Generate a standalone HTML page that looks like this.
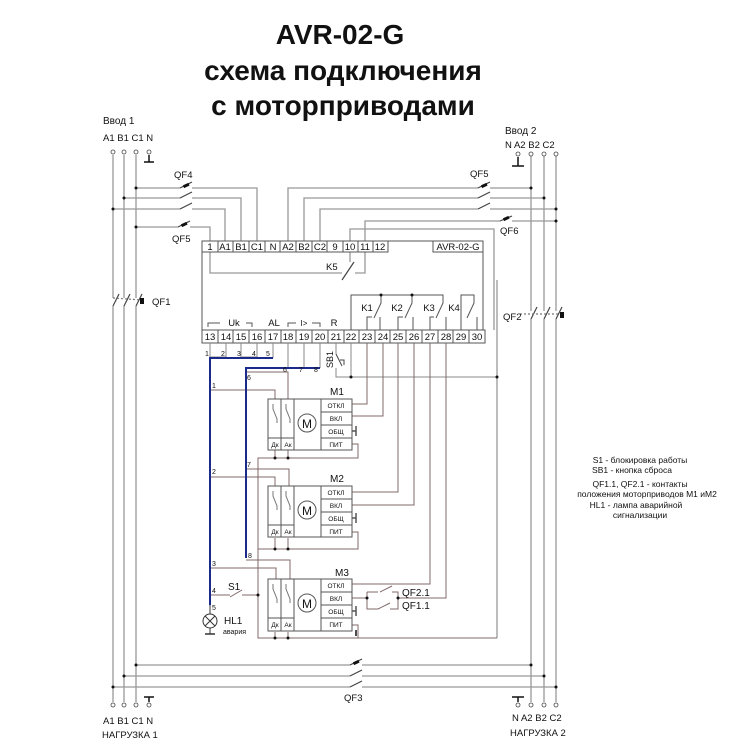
<!DOCTYPE html>
<html><head><meta charset="utf-8"><style>
html,body{margin:0;padding:0;background:#fff}
svg{display:block}
text{font-family:"Liberation Sans",sans-serif;fill:#111}
</style></head><body>
<svg width="750" height="750" viewBox="0 0 750 750" xmlns="http://www.w3.org/2000/svg">
<g font-weight="bold" font-size="28" text-anchor="middle">
<text x="340" y="44">AVR-02-G</text>
<text x="343" y="80">схема подключения</text>
<text x="343" y="115">с моторприводами</text>
</g>

<g font-size="10">
<text x="103" y="124">Ввод 1</text>
<text x="103" y="141" font-size="9.5">A1 B1 C1 N</text>
<text x="505" y="134">Ввод 2</text>
<text x="505" y="148" font-size="9.5">N  A2 B2 C2</text>
</g>

<g stroke="#999" stroke-width="1.3" fill="none">
<line x1="113" y1="155" x2="113" y2="298"/><line x1="113" y1="306" x2="113" y2="702"/>
<line x1="124" y1="155" x2="124" y2="298"/><line x1="124" y1="306" x2="124" y2="702"/>
<line x1="136" y1="155" x2="136" y2="298"/><line x1="136" y1="306" x2="136" y2="702"/>
<line x1="531" y1="156" x2="531" y2="311"/><line x1="531" y1="319" x2="531" y2="702"/>
<line x1="544" y1="156" x2="544" y2="311"/><line x1="544" y1="319" x2="544" y2="702"/>
<line x1="556" y1="156" x2="556" y2="311"/><line x1="556" y1="319" x2="556" y2="702"/>
<polyline points="136,188 180,188"/><polyline points="192,188 257,188 257,241"/>
<polyline points="124,198 180,198"/><polyline points="192,198 241,198 241,241"/>
<polyline points="113,209 180,209"/><polyline points="192,209 225,209 225,241"/>
<polyline points="136,227 178,227"/><polyline points="190,227 210,227 210,241"/>
<polyline points="288,241 288,188 478,188"/><polyline points="490,188 531,188"/>
<polyline points="304,241 304,198 478,198"/><polyline points="490,198 544,198"/>
<polyline points="320,241 320,209 478,209"/><polyline points="490,209 556,209"/>
<polyline points="365,241 365,221 500,221"/><polyline points="512,221 556,221"/>
<polyline points="350,241 350,229 494,229 494,330"/>
<line x1="497" y1="280" x2="497" y2="638"/>
<polyline points="210,252 210,273 342,273"/>
<polyline points="355,273 365,273 365,252"/>
<line x1="350" y1="252" x2="350" y2="262"/>
<line x1="136" y1="665" x2="350" y2="665"/><line x1="362" y1="665" x2="531" y2="665"/>
<line x1="124" y1="676" x2="350" y2="676"/><line x1="362" y1="676" x2="544" y2="676"/>
<line x1="113" y1="687" x2="350" y2="687"/><line x1="362" y1="687" x2="556" y2="687"/>
</g>

<g stroke="#444" stroke-width="1.2" fill="none">
<line x1="180" y1="188" x2="192" y2="182"/><line x1="180" y1="198" x2="192" y2="192"/><line x1="180" y1="209" x2="192" y2="203"/>
<line x1="178" y1="227" x2="190" y2="221"/>
<line x1="478" y1="188" x2="490" y2="182"/><line x1="478" y1="198" x2="490" y2="192"/><line x1="478" y1="209" x2="490" y2="203"/>
<line x1="500" y1="221" x2="512" y2="216"/>
<line x1="350" y1="665" x2="362" y2="659"/><line x1="350" y1="676" x2="362" y2="670"/><line x1="350" y1="687" x2="362" y2="681"/>
<line x1="113" y1="306" x2="119" y2="294"/><line x1="124" y1="306" x2="130" y2="294"/><line x1="136" y1="306" x2="142" y2="294"/>
<line x1="113" y1="298" x2="142" y2="300" stroke-dasharray="2,2" stroke="#777"/>
<line x1="531" y1="319" x2="537" y2="307"/><line x1="544" y1="319" x2="550" y2="307"/><line x1="556" y1="319" x2="562" y2="307"/>
<line x1="520" y1="314" x2="562" y2="314" stroke-dasharray="2,2" stroke="#777"/>
<line x1="342" y1="280" x2="354" y2="262"/>
</g>
<g fill="#111">
<rect x="183" y="184" width="6" height="3" transform="rotate(-25 186 185)"/>
<rect x="181" y="223" width="6" height="3" transform="rotate(-25 184 224)"/>
<rect x="481" y="184" width="6" height="3" transform="rotate(-25 484 185)"/>
<rect x="503" y="217" width="6" height="3" transform="rotate(-25 506 218)"/>
<rect x="353" y="661" width="6" height="3" transform="rotate(-25 356 662)"/>
<rect x="140" y="298" width="4" height="6"/>
<rect x="560" y="312" width="4" height="6"/>
</g>
<g font-size="9.5">
<text x="174" y="178">QF4</text><text x="172" y="242">QF5</text>
<text x="470" y="177">QF5</text><text x="500" y="234">QF6</text>
<text x="152" y="305">QF1</text><text x="503" y="320">QF2</text>
<text x="344" y="701">QF3</text>
<text x="326" y="270">K5</text>
</g>

<g font-size="9.5" fill="none" stroke="#555" stroke-width="1">
<rect x="202" y="241" width="281" height="102"/>
<rect x="202" y="241" width="186" height="11" fill="#fff"/>
<rect x="433" y="241" width="50" height="11" fill="#fff"/>
<rect x="202" y="330" width="283" height="13" fill="#fff"/>
<path d="M218 241v11M233 241v11M249 241v11M265 241v11M280 241v11M296 241v11M312 241v11M327 241v11M343 241v11M358 241v11M373 241v11"/>
<path d="M218 330v13M233 330v13M249 330v13M265 330v13M281 330v13M296 330v13M312 330v13M328 330v13M344 330v13M359 330v13M375 330v13M390 330v13M406 330v13M422 330v13M438 330v13M453 330v13M469 330v13"/>
</g>
<g font-size="9.5" text-anchor="middle">
<text x="210" y="250">1</text><text x="225" y="250">A1</text><text x="241" y="250">B1</text><text x="257" y="250">C1</text><text x="273" y="250">N</text><text x="288" y="250">A2</text><text x="304" y="250">B2</text><text x="320" y="250">C2</text><text x="335" y="250">9</text><text x="350" y="250">10</text><text x="365" y="250">11</text><text x="380" y="250">12</text>
<text x="458" y="250">AVR-02-G</text>
<text x="210" y="340">13</text><text x="226" y="340">14</text><text x="241" y="340">15</text><text x="257" y="340">16</text><text x="273" y="340">17</text><text x="288" y="340">18</text><text x="304" y="340">19</text><text x="320" y="340">20</text><text x="336" y="340">21</text><text x="351" y="340">22</text><text x="367" y="340">23</text><text x="383" y="340">24</text><text x="398" y="340">25</text><text x="414" y="340">26</text><text x="430" y="340">27</text><text x="446" y="340">28</text><text x="461" y="340">29</text><text x="477" y="340">30</text>
<text x="234" y="326">Uk</text><text x="274" y="326">AL</text><text x="304" y="326" font-size="8">I&gt;</text><text x="334" y="326">R</text>
<text x="367" y="311">K1</text><text x="397" y="311">K2</text><text x="429" y="311">K3</text><text x="454" y="311">K4</text>
</g>
<g stroke="#555" stroke-width="1" fill="none">
<path d="M208 327v-4h12M246 323h6v4M288 327v-4h8M312 323h8v4"/>
<polyline points="351,330 351,295 412,295"/>
<polyline points="381,295 381,303 374,318"/><polyline points="367,330 367,317 372,317"/><line x1="380" y1="330" x2="380" y2="317"/>
<polyline points="412,295 412,303 405,318"/><polyline points="398,330 398,317 403,317"/><line x1="413" y1="330" x2="413" y2="317"/>
<polyline points="412,295 443,295 443,303 436,318"/><polyline points="430,330 430,317 434,317"/><line x1="446" y1="330" x2="446" y2="317"/>
<polyline points="461,330 461,295 474,295 474,303 467,318"/><line x1="477" y1="330" x2="477" y2="317"/>
</g>
<g fill="#111"><circle cx="381" cy="295" r="1.5"/><circle cx="412" cy="295" r="1.5"/></g>

<g stroke="#888" stroke-width="1" fill="none">
<line x1="210" y1="343" x2="210" y2="358"/><line x1="226" y1="343" x2="226" y2="358"/><line x1="241" y1="343" x2="241" y2="358"/><line x1="257" y1="343" x2="257" y2="358"/><line x1="273" y1="343" x2="273" y2="358"/>
<path d="M210 357h16M241 357h16"/>
<line x1="288" y1="343" x2="288" y2="368"/><line x1="304" y1="343" x2="304" y2="368"/><line x1="320" y1="343" x2="320" y2="368"/>
<polyline points="336,343 336,354"/>
<polyline points="336,368 336,377 497,377"/>
<line x1="351" y1="343" x2="351" y2="377"/>
</g>
<g stroke="#806868" stroke-width="1" fill="none">
<polyline points="367,343 367,404 352,404"/>
<polyline points="383,343 383,416 352,416"/>
<polyline points="398,343 398,492 352,492"/>
<polyline points="414,343 414,505 352,505"/>
<polyline points="430,343 430,584 352,584"/>
<polyline points="446,343 446,598 398,598"/>
<polyline points="352,598 367,598"/>
<polyline points="367,592 367,609 378,609"/><line x1="378" y1="609" x2="390" y2="603"/><polyline points="390,609 398,609 398,592 392,592"/>
<polyline points="367,592 378,592"/><line x1="380" y1="592" x2="392" y2="586"/>
<polyline points="352,444 358,444 358,458 258,458 258,638 497,638"/>
<polyline points="352,532 358,532 358,549 258,549"/>
<polyline points="352,625 358,625 358,638"/>
<line x1="275" y1="450" x2="275" y2="458"/><line x1="288" y1="450" x2="288" y2="458"/>
<line x1="275" y1="538" x2="275" y2="549"/><line x1="288" y1="538" x2="288" y2="549"/>
<line x1="275" y1="632" x2="275" y2="638"/><line x1="288" y1="632" x2="288" y2="638"/>
<polyline points="210,390 275,390 275,399"/>
<polyline points="246,372 288,372 288,399"/>
<polyline points="210,477 275,477 275,486"/>
<polyline points="246,469 289,469 289,486"/>
<polyline points="210,568 276,568 276,579"/>
<polyline points="246,560 290,560 290,579"/>
<polyline points="210,595 230,595"/><line x1="230" y1="597" x2="242" y2="590"/><polyline points="242,595 258,595"/>
</g>
<g fill="#111"><circle cx="351" cy="377" r="1.5"/><circle cx="497" cy="377" r="1.5"/><circle cx="258" cy="595" r="1.5"/><circle cx="367" cy="598" r="1.5"/><circle cx="398" cy="598" r="1.5"/>
<circle cx="275" cy="458" r="1.5"/><circle cx="288" cy="458" r="1.5"/><circle cx="275" cy="549" r="1.5"/><circle cx="288" cy="549" r="1.5"/><circle cx="275" cy="638" r="1.5"/><circle cx="288" cy="638" r="1.5"/></g>
<g stroke="#1a2a8a" stroke-width="2" fill="none">
<polyline points="273,358 210,358 210,605"/>
<polyline points="320,368 246,368 246,558"/>
</g>
<g font-size="7">
<text x="205" y="356">1</text><text x="221" y="356">2</text><text x="237" y="356">3</text><text x="252" y="356">4</text><text x="266" y="356">5</text>
<text x="283" y="372">6</text><text x="299" y="372">7</text><text x="314" y="372">8</text>
<text x="247" y="380">6</text><text x="212" y="388">1</text><text x="247" y="467">7</text><text x="212" y="474">2</text>
<text x="248" y="558">8</text><text x="212" y="566">3</text><text x="212" y="593">4</text><text x="212" y="610">5</text>
</g>
<text x="0" y="0" font-size="9" transform="translate(333,368) rotate(-90)">SB1</text>
<g stroke="#444" fill="none"><line x1="336" y1="354" x2="342" y2="366"/><path d="M340 360h4v5"/></g>
<text x="228" y="590" font-size="10">S1</text>
<g stroke="#333" fill="none" stroke-width="1"><line x1="210" y1="605" x2="210" y2="614"/><circle cx="210" cy="621" r="7"/><path d="M205 616l10 10M215 616l-10 10"/><line x1="210" y1="628" x2="210" y2="634"/><line x1="205" y1="634" x2="215" y2="634" stroke-width="1.5"/></g>
<text x="224" y="624" font-size="10">HL1</text><text x="223" y="634" font-size="7">авария</text>

<g>
<g stroke="#555" fill="none" stroke-width="1">
<rect x="268" y="399" width="84" height="51"/>
<path d="M281 399v51M294 399v51M321 399v51M321 412h31M321 425h31M321 438h31M268 438h26"/>
<path d="M273 404v5l4 10v4M286 404v5l4 10v4" stroke="#777"/>
<circle cx="307" cy="423" r="9"/>
<path d="M352 431h4M356 426v10" stroke-width="1.5"/>
</g>
<text x="307" y="428" font-size="12" text-anchor="middle">M</text>
<g font-size="6.5" text-anchor="middle"><text x="336" y="408">ОТКЛ</text><text x="336" y="421">ВКЛ</text><text x="336" y="434">ОБЩ</text><text x="336" y="447">ПИТ</text><text x="275" y="447">Дк</text><text x="288" y="447">Ак</text></g>
<text x="330" y="395" font-size="10">M1</text>
</g>
<g transform="translate(0,87)">
<g stroke="#555" fill="none" stroke-width="1">
<rect x="268" y="399" width="84" height="51"/>
<path d="M281 399v51M294 399v51M321 399v51M321 412h31M321 425h31M321 438h31M268 438h26"/>
<path d="M273 404v5l4 10v4M286 404v5l4 10v4" stroke="#777"/>
<circle cx="307" cy="423" r="9"/>
<path d="M352 431h4M356 426v10" stroke-width="1.5"/>
</g>
<text x="307" y="428" font-size="12" text-anchor="middle">M</text>
<g font-size="6.5" text-anchor="middle"><text x="336" y="408">ОТКЛ</text><text x="336" y="421">ВКЛ</text><text x="336" y="434">ОБЩ</text><text x="336" y="447">ПИТ</text><text x="275" y="447">Дк</text><text x="288" y="447">Ак</text></g>
<text x="330" y="395" font-size="10">M2</text>
</g>
<g transform="translate(0,180)">
<g stroke="#555" fill="none" stroke-width="1">
<rect x="268" y="399" width="84" height="52"/>
<path d="M281 399v52M294 399v52M321 399v52M321 412h31M321 425h31M321 438h31M268 438h26"/>
<path d="M273 404v5l4 10v4M286 404v5l4 10v4" stroke="#777"/>
<circle cx="307" cy="423" r="9"/>
<path d="M352 431h4M356 426v10" stroke-width="1.5"/>
</g>
<text x="307" y="428" font-size="12" text-anchor="middle">M</text>
<g font-size="6.5" text-anchor="middle"><text x="336" y="408">ОТКЛ</text><text x="336" y="421">ВКЛ</text><text x="336" y="434">ОБЩ</text><text x="336" y="447">ПИТ</text><text x="275" y="447">Дк</text><text x="288" y="447">Ак</text></g>
<text x="335" y="396" font-size="10">M3</text>
</g>
<text x="402" y="596" font-size="10">QF2.1</text><text x="402" y="609" font-size="10">QF1.1</text>

<g stroke="#444" fill="none" stroke-width="0.8">
<circle cx="113" cy="152" r="2"/><circle cx="124" cy="152" r="2"/><circle cx="136" cy="152" r="2"/><circle cx="149" cy="152" r="2"/>
<circle cx="518" cy="154" r="2"/><circle cx="531" cy="154" r="2"/><circle cx="544" cy="154" r="2"/><circle cx="556" cy="154" r="2"/>
<circle cx="113" cy="705" r="2"/><circle cx="124" cy="705" r="2"/><circle cx="136" cy="705" r="2"/><circle cx="149" cy="705" r="2"/>
<circle cx="518" cy="705" r="2"/><circle cx="531" cy="705" r="2"/><circle cx="544" cy="705" r="2"/><circle cx="556" cy="705" r="2"/>
</g>
<g stroke="#111" stroke-width="1.5">
<line x1="149" y1="155" x2="149" y2="162"/><line x1="144" y1="162" x2="154" y2="162"/>
<line x1="518" y1="157" x2="518" y2="166"/><line x1="512" y1="166" x2="524" y2="166"/>
<line x1="149" y1="697" x2="149" y2="702"/><line x1="144" y1="697" x2="154" y2="697"/>
<line x1="518" y1="697" x2="518" y2="702"/><line x1="512" y1="697" x2="524" y2="697"/>
<line x1="356" y1="630" x2="356" y2="636"/>
</g>
<g fill="#111">
<circle cx="136" cy="188" r="1.5"/><circle cx="124" cy="198" r="1.5"/><circle cx="113" cy="209" r="1.5"/><circle cx="136" cy="227" r="1.5"/>
<circle cx="531" cy="188" r="1.5"/><circle cx="544" cy="198" r="1.5"/><circle cx="556" cy="209" r="1.5"/><circle cx="556" cy="221" r="1.5"/>
<circle cx="136" cy="665" r="1.5"/><circle cx="124" cy="676" r="1.5"/><circle cx="113" cy="687" r="1.5"/>
<circle cx="531" cy="665" r="1.5"/><circle cx="544" cy="676" r="1.5"/><circle cx="556" cy="687" r="1.5"/>
</g>
<g font-size="9.5">
<text x="103" y="724">A1 B1 C1 N</text><text x="102" y="738">НАГРУЗКА 1</text>
<text x="512" y="721">N  A2 B2 C2</text><text x="510" y="736">НАГРУЗКА 2</text>
</g>
<g font-size="8.5" text-anchor="middle">
<text x="640" y="463">S1 - блокировка работы</text>
<text x="632" y="473">SB1 - кнопка сброса</text>
<text x="640" y="487">QF1.1, QF2.1 -  контакты</text>
<text x="647" y="497">положения моторприводов M1 иM2</text>
<text x="636" y="508">HL1 - лампа аварийной</text>
<text x="640" y="518">сигнализации</text>
</g>
</svg>
</body></html>
